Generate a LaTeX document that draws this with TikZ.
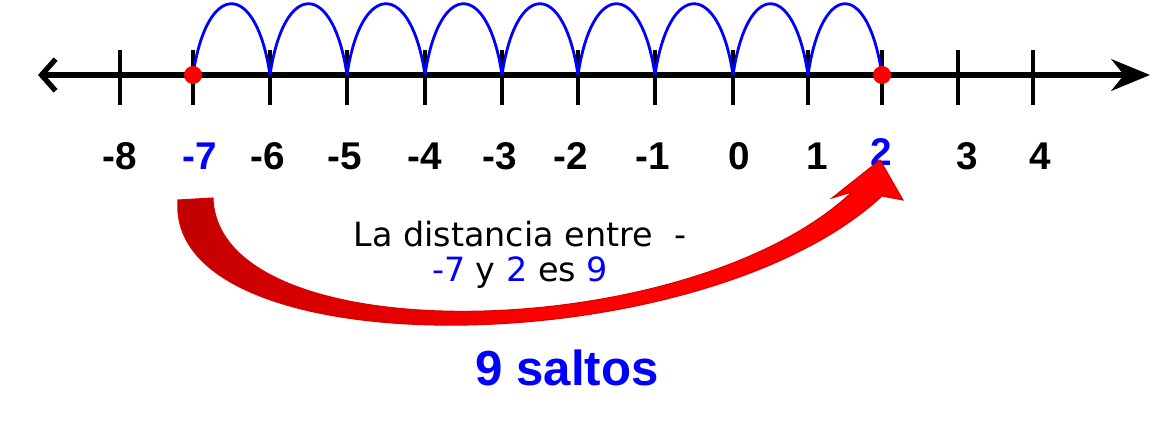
\documentclass[tikz,border=0pt]{standalone}
\usepackage{fontspec}
\usetikzlibrary{arrows.meta}
\setmainfont{Liberation Sans}
\newfontfamily\handfont{DejaVu Sans}
\begin{document}
\begin{tikzpicture}[x=0.02cm,y=-0.02cm,
  tick/.style={line width=2pt},
  numlbl/.style={font=\bfseries\fontsize{22}{24}\selectfont},
  jump/.style={blue,line width=1.6pt}]
	\useasboundingbox (0,0) rectangle (1163,428);
	\draw[line width=3pt,{Straight Barb[length=8pt,width=18pt]}-{Stealth[length=22pt,width=18pt]}] (38,75) -- (1150,75);

	\foreach \v/\x in {-8/120,-7/193,-6/270,-5/347,-4/425,-3/502,-2/578,-1/655,0/733,1/808,2/882,3/958,4/1033}{
		\coordinate (t\v) at (\x,75);
		\draw[tick] (\x,50) -- (\x,105);
	}
	\foreach \v/\x in {-8/120,-6/268,-5/345,-4/425,-3/500,-2/571,-1/653,0/739,1/817,3/967,4/1040}
		\node[numlbl] (n\v) at (\x,156) {\v};
	\node[numlbl,blue] (n-7) at (200,156) {-7};
	\node[numlbl,blue] (n2) at (881,152) {2};

	% saltos
	\foreach \a/\b in {-7/-6,-6/-5,-5/-4,-4/-3,-3/-2,-2/-1,-1/0,0/1,1/2}
		\draw[jump] (t\a) .. controls ([shift={(14,-95)}]t\a) and ([shift={(-14,-95)}]t\b) .. (t\b);

	\fill[red] (t-7) circle (9);
	\fill[red] (t2) circle (9);

	% flecha roja
	\begin{scope}
		\clip (178,200) -- (213,198) .. controls (218,355) and (690,345) .. (852,192)
			-- (832,198) -- (880,160) -- (903,200) -- (882,196)
			.. controls (700,365) and (165,370) .. (178,200) -- cycle;
		\shade[left color=red!75!black,right color=red,middle color=red] (170,150) rectangle (910,340);
	\end{scope}
	\draw[red!85!black,line width=0.6pt]
		(178,200) -- (213,198) .. controls (218,355) and (690,345) .. (852,192)
		-- (832,198) -- (880,160) -- (903,200) -- (882,196)
		.. controls (700,365) and (165,370) .. (178,200) -- cycle;

	\node[font=\handfont\fontsize{19}{21}\selectfont] (txt1) at (520,234) {La distancia entre\ \ -};
	\node[font=\handfont\fontsize{19}{21}\selectfont] (txt2) at (520,273) {\textcolor{blue}{-7} y \textcolor{blue}{2} es \textcolor{blue}{9}};
	\node[blue,font=\bfseries\fontsize{28}{30}\selectfont] (saltos) at (567,368) {9 saltos};
\end{tikzpicture}
\end{document}
